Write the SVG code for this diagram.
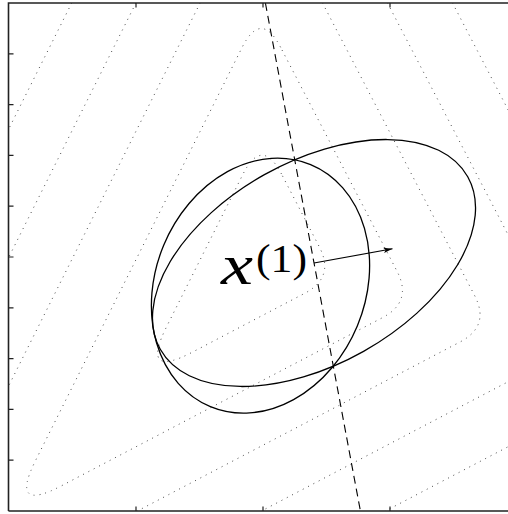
<svg xmlns="http://www.w3.org/2000/svg" width="508" height="514" viewBox="0 0 508 514">
<style>
.contour{fill:none;stroke:#333;stroke-width:0.9;stroke-dasharray:1 5}
.ell{fill:none;stroke:#000;stroke-width:1.3}
.frame{fill:none;stroke:#222;stroke-width:1.6}
.tick{stroke:#222;stroke-width:1.2}
.lbl{font-family:"Liberation Serif","Times New Roman",serif;font-style:italic;fill:#000}
.sup{font-family:"Liberation Serif","Times New Roman",serif;fill:#000}
</style>
<defs>
<clipPath id="plot"><rect x="8.5" y="3" width="508" height="508"/></clipPath>
<marker id="ah" viewBox="-10 -4 12 8" refX="0" refY="0" markerWidth="12" markerHeight="8" markerUnits="userSpaceOnUse" orient="auto">
<path d="M0,0 L-9,-2.6 L-7,0 L-9,2.6 Z" fill="#000"/>
</marker>
</defs>
<rect width="508" height="514" fill="#fff"/>
<g id="contours" clip-path="url(#plot)">
<path id="level-a" class="contour" d="M281.5,174 Q261.9,136.3 242.9,174.3 L166.5,326.9 Q140.2,379.5 192.3,352.2 L304.7,293.3 Q335.2,277.3 319.3,246.8 Z"/>
<path id="level-b" class="contour" d="M280.6,47.3 Q261,9.6 242,47.6 L35.5,460.6 Q9.2,513.2 61.3,485.9 L382.4,317.7 Q412.9,301.7 397,271.2 Z"/>
<path id="level-c" class="contour" d="M205.6,-8 L-2,407.2 M316.8,-8 L474.6,295.5 Q490.5,326 460,342 L120.2,520"/>
<path id="level-d" class="contour" d="M141.4,-8 L-2,278.8 M381.8,-8 L520,257.7 M244.3,520 L520,375.5"/>
<path id="level-e" class="contour" d="M77.2,-8 L-2,150.4 M446.8,-8 L520,132.7 M368.3,520 L520,440.5"/>
</g>
<g id="ellipsoid-1">
<ellipse class="ell" cx="314" cy="263" rx="176.3" ry="101.3" transform="rotate(-29.3 314 263)"/>
</g>
<g id="ellipsoid-2">
<ellipse class="ell" cx="260.5" cy="285.6" rx="104.9" ry="131" transform="rotate(22.5 260.5 285.6)"/>
</g>
<g id="connectors">
<line id="cut" x1="265.4" y1="3" x2="360.4" y2="511" stroke="#000" stroke-width="1.1" stroke-dasharray="8 5"/>
<line id="gradient" x1="314" y1="263" x2="392.5" y2="248.8" stroke="#000" stroke-width="1.1" marker-end="url(#ah)"/>
</g>
<g id="label-x1">
<text class="lbl" x="221" y="284" font-size="56" textLength="32" lengthAdjust="spacingAndGlyphs">x</text>
<text class="sup" x="256" y="272" font-size="40" textLength="51" lengthAdjust="spacingAndGlyphs">(1)</text>
</g>
<g id="axes">
<path class="frame" d="M8.5,511 L8.5,3 L516,3 M8.5,511 L516,511"/>
<path class="tick" d="M136,3 v4.5 M263,3 v4.5 M390,3 v4.5 M136,511 v-4.5 M263,511 v-4.5 M390,511 v-4.5 M8.5,53.8 h5 M8.5,104.6 h5 M8.5,155.4 h5 M8.5,206.2 h5 M8.5,257 h5 M8.5,307.8 h5 M8.5,358.6 h5 M8.5,409.4 h5 M8.5,460.2 h5"/>
</g>
</svg>
